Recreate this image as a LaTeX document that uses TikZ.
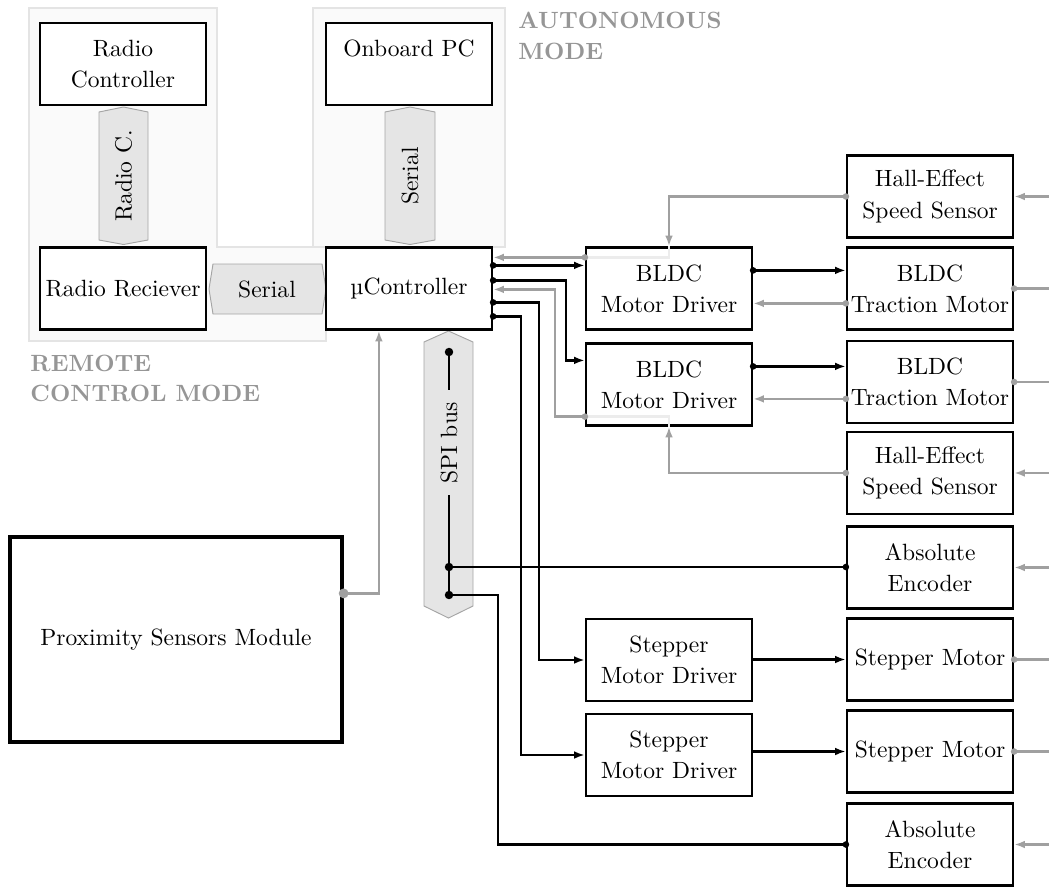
\documentclass[tikz,border=0pt]{standalone}
\usepackage{fontspec}
\usetikzlibrary{arrows.meta,calc}
\definecolor{lg}{RGB}{160,160,160}
\definecolor{panelfill}{RGB}{250,250,250}
\definecolor{panelline}{RGB}{228,228,228}
\definecolor{busfill}{RGB}{229,229,229}
\definecolor{busline}{RGB}{165,165,165}
\definecolor{modetext}{RGB}{150,150,150}
\definecolor{faintc}{RGB}{236,236,236}
\begin{document}
\begin{tikzpicture}[x=0.425pt,y=-0.425pt,
  font=\fontsize{10}{13.2}\selectfont,
  blk/.style={draw=black,line width=0.95pt,minimum width=70.55pt,minimum height=34.85pt,inner sep=0pt,align=center,fill=white},
  wire/.style={line width=1.15pt,draw=black},
  gwire/.style={line width=1.15pt,draw=lg},
  fwire/.style={line width=1.1pt,draw=faintc},
  tip/.style={-{Latex[length=4.6pt,width=3.3pt]}},
  panel/.style={fill=panelfill,draw=panelline,line width=0.5pt},
  bus/.style={fill=busfill,draw=busline,line width=0.4pt},
  modelabel/.style={text=modetext,font=\fontsize{10}{12.8}\selectfont\bfseries,align=left,anchor=north west,inner sep=0pt},
  ]
\useasboundingbox (0,0) rectangle (1049,887);
% panels
\path[panel] (29,8) -- (217,8) -- (217,247) -- (326,247) -- (326,341) -- (29,341) -- cycle;
\path[panel] (313,8) rectangle (505,247);
\node[modelabel] (autolbl) at (518,12) {AUTONOMOUS\\MODE};
\node[modelabel] (remlbl) at (30,355) {REMOTE\\CONTROL MODE};
% bus shapes
\path[bus] (99,112) -- (123.5,107) -- (148,112) -- (148,240) -- (123.5,244.5) -- (99,240) -- cycle;
\node[rotate=90] (radc) at (123.5,176) {Radio C.};
\path[bus] (385,112) -- (410,107) -- (435,112) -- (435,240) -- (410,244.5) -- (385,240) -- cycle;
\node[rotate=90] (ser1) at (410,176) {Serial};
\path[bus] (213,264) -- (322,264) -- (326,289) -- (322,314) -- (213,314) -- (209,289) -- cycle;
\node (ser2) at (267,289) {Serial};
\path[bus] (424,342) -- (448.5,331) -- (473,342) -- (473,606) -- (448.5,618) -- (424,606) -- cycle;
\node[rotate=90] (spi) at (449,443) {SPI bus};
% boxes
\node[blk] (rc) at (123,64) {Radio\\Controller};
\node[blk] (pc) at (409,64) {Onboard PC\\\mbox{}};
\node[blk] (rr) at (123,288.5) {Radio Reciever};
\node[blk] (uc) at (409,288.5) {µController};
\node[blk] (bd1) at (669,288.5) {BLDC\\Motor Driver};
\node[blk] (bd2) at (669,384.5) {BLDC\\Motor Driver};
\node[blk] (sd1) at (669,660) {Stepper\\Motor Driver};
\node[blk] (sd2) at (669,755) {Stepper\\Motor Driver};
\node[blk] (hs1) at (930,196.5) {Hall-Effect\\Speed Sensor};
\node[blk] (tm1) at (930,288.5) {BLDC\\Traction Motor};
\node[blk] (tm2) at (930,382) {BLDC\\Traction Motor};
\node[blk] (hs2) at (930,473) {Hall-Effect\\Speed Sensor};
\node[blk] (ae1) at (930,567.5) {Absolute\\Encoder};
\node[blk] (sm1) at (930,659.5) {Stepper Motor};
\node[blk] (sm2) at (930,751.5) {Stepper Motor};
\node[blk] (ae2) at (930,844.5) {Absolute\\Encoder};
\node[blk,line width=1.4pt,minimum width=141.1pt,minimum height=87.1pt] (prox) at (176,639.5) {Proximity Sensors Module};
% helper coordinates
\coordinate (edge) at (1049,0);
\coordinate (u1) at ($(uc.north east)+(0,19)$);
\coordinate (u2) at ($(uc.north east)+(0,34)$);
\coordinate (u3) at ($(uc.north east)+(0,56)$);
\coordinate (u4) at ($(uc.north east)+(0,70)$);
\coordinate (ug2) at ($(uc.north east)+(0,43)$);
\coordinate (b2in) at ($(bd2.north west)+(0,18)$);
\coordinate (b1o) at ($(bd1.north west)+(0,11)$);
\coordinate (b2o) at ($(bd2.south west)+(0,-10)$);
\coordinate (b1a) at ($(bd1.north east)+(0,24)$);
\coordinate (b2a) at ($(bd2.north east)+(0,24)$);
\coordinate (t1a) at ($(tm1.north west)+(0,57)$);
\coordinate (t2a) at ($(tm2.north west)+(0,59)$);
\coordinate (pr) at ($(prox.north east)+(0,58)$);
\coordinate (sp0) at (449,352);
\coordinate (sp1) at (449,390);
\coordinate (sp2) at (449,495);
\coordinate (sj1) at (449,567);
\coordinate (sj2) at (449,595);
\coordinate (sk) at (498,595);
% black control lines
\draw[wire,tip] (u1) -- (u1 -| bd1.west);
\draw[wire,tip] (u2) -- ($(u2)+(73,0)$) |- (b2in);
\draw[wire,tip] (u3) -- ($(u3)+(46,0)$) |- (sd1.west);
\draw[wire,tip] (u4) -- ($(u4)+(28,0)$) |- (sd2.west);
\foreach \p in {u1,u2,u3,u4} \fill (\p) circle[radius=1.4pt];
% gray feedback
\draw[fwire] (b1o) -| (bd1.north);
\draw[fwire] (b2o) -| (bd2.south);
\draw[gwire,tip] (b1o) -- (b1o -| uc.east);
\draw[gwire,tip] (hs1.west) -| (bd1.north);
\draw[gwire,tip] (b2o) -- ($(b2o)+(-30,0)$) |- (ug2);
\draw[gwire,tip] (hs2.west) -| (bd2.south);
\foreach \p in {b1o,b2o,hs1.west,hs2.west} \fill[lg] (\p) circle[radius=1.4pt];
% drivers to motors
\draw[wire,tip] (b1a) -- (b1a -| tm1.west);
\draw[wire,tip] (b2a) -- (b2a -| tm2.west);
\fill (b1a) circle[radius=1.4pt];
\fill (b2a) circle[radius=1.4pt];
\draw[gwire,tip] (t1a) -- (t1a -| bd1.east);
\draw[gwire,tip] (t2a) -- (t2a -| bd2.east);
\fill[lg] (t1a) circle[radius=1.4pt];
\fill[lg] (t2a) circle[radius=1.4pt];
\draw[wire,tip] (sm1.west -| sd1.east) -- (sm1.west);
\draw[wire,tip] (sm2.west -| sd2.east) -- (sm2.west);
% right edge
\draw[gwire,tip] (hs1.east -| edge) -- (hs1.east);
\draw[gwire,tip] (hs2.east -| edge) -- (hs2.east);
\draw[gwire,tip] (ae1.east -| edge) -- (ae1.east);
\draw[gwire,tip] (ae2.east -| edge) -- (ae2.east);
\foreach \n in {tm1,tm2,sm1,sm2} {
  \draw[gwire] (\n.east) -- (\n.east -| edge);
  \fill[lg] (\n.east) circle[radius=1.4pt];
}
% SPI bus
\draw[wire] (sp0) -- (sp1);
\draw[wire] (sp2) -- (sj2);
\draw[wire] (sj1) -- (sj1 -| ae1.west);
\draw[wire] (sj2) -- (sk) |- (ae2.west);
\foreach \p in {sp0,sj1,sj2} \fill (\p) circle[radius=1.8pt];
\fill (sj1 -| ae1.west) circle[radius=1.4pt];
\fill (ae2.west) circle[radius=1.4pt];
% proximity
\draw[gwire,tip] (pr) -| ($(uc.south west)+(54,0)$);
\fill[lg] (pr) circle[radius=2.1pt];
\end{tikzpicture}
\end{document}
